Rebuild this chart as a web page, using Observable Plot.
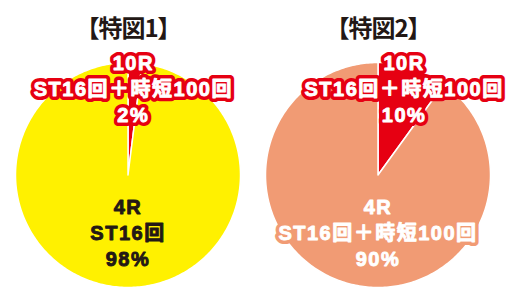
<!DOCTYPE html>
<html>
<head>
<meta charset="utf-8">
<script src="https://cdn.jsdelivr.net/npm/d3@7"></script>
<script src="https://cdn.jsdelivr.net/npm/@observablehq/plot@0.6"></script>
<style>
  html, body { margin: 0; padding: 0; background: #fff; }
</style>
</head>
<body>
<div id="chart"></div>
<script>
// ---- data ----
const charts = ["【特図1】", "【特図2】"];
const rounds = ["10R", "4R"];
const bonusLabels = [
  ["ST16回＋時短100回", "ST16回"],
  ["ST16回＋時短100回", "ST16回＋時短100回"]
];
const shares = [
  [2, 98],
  [10, 90]
];
// ---- palette ----
const sliceColors = [["#e60012", "#fff100"], ["#e60012", "#f19b74"]];
const labelInk   = [["#ffffff", "#231815"], ["#ffffff", "#ffffff"]];
const labelHalo  = [["#e60012", "#fff100"], ["#e60012", "#f19b74"]];

// ---- build slices ----
const pie = d3.pie().sort(null).value(d => d);
const slices = charts.flatMap((chart, i) =>
  pie(shares[i]).map((a, j) => ({
    chart, i, j,
    key: chart + "-" + j,
    start: a.startAngle,
    end: a.endAngle,
    share: shares[i][j],
    color: sliceColors[i][j],
    ink: labelInk[i][j],
    halo: labelHalo[i][j],
    text: `${rounds[j]}\n${bonusLabels[i][j]}\n${shares[i][j]}%`
  }))
);

const points = slices.flatMap(s => {
  const n = Math.max(2, Math.ceil((s.end - s.start) / (Math.PI / 180)));
  const pts = [{...s, px: 0, py: 0}];
  for (let k = 0; k <= n; k++) {
    const a = s.start + (s.end - s.start) * k / n;
    pts.push({...s, px: Math.sin(a), py: Math.cos(a)});
  }
  pts.push({...s, px: 0, py: 0});
  return pts;
});

const labels = slices.map(s => {
  const mid = (s.start + s.end) / 2;
  const major = s.share > 50;
  return {
    ...s,
    lx: major ? 0 : 0.75 * Math.sin(mid),
    ly: major ? -0.50 : 0.78 * Math.cos(mid) + (s.share > 5 ? 0.03 : 0)
  };
});

const font = "'Liberation Sans', 'Noto Sans CJK JP', sans-serif";
const textOpts = {
  fx: "chart", x: "lx", y: "ly", text: "text",
  fontSize: 20, fontWeight: "bold", lineHeight: 1.3,
  lineAnchor: "middle", textAnchor: "middle",
  strokeLinejoin: "round"
};

const plot = Plot.plot({
  width: 516,
  height: 300,
  marginLeft: 15,
  marginRight: 26,
  marginTop: 62,
  marginBottom: 13,
  style: {fontFamily: font, background: "#fff"},
  x: {domain: [-1, 1], axis: null},
  y: {domain: [-1, 1], axis: null},
  fx: {domain: charts, paddingInner: 0.1, paddingOuter: 0, axis: null},
  color: {type: "identity"},
  marks: [
    Plot.text(charts, {
      fx: d => d, text: d => d, frameAnchor: "top", dy: -26,
      lineAnchor: "bottom", textAnchor: "middle",
      fontSize: 24, fontWeight: "bold", fill: "#231815",
      fontFamily: "'Noto Sans CJK JP', sans-serif"
    }),
    Plot.line(points, {
      fx: "chart", x: "px", y: "py", z: "key",
      fill: "color", stroke: "#ffffff", strokeWidth: 1.5,
      strokeLinejoin: "round", curve: "linear"
    }),
    // halo
    Plot.text(labels, {...textOpts, fill: "halo", stroke: "halo", strokeWidth: 8}),
    // emboldened ink
    Plot.text(labels, {...textOpts, fill: "ink", stroke: "ink", strokeWidth: 0.9})
  ]
});

const svg = d3.select(plot);
const textGroups = svg.selectAll("g[aria-label=text]");
textGroups.filter((d, k) => k === 0).selectAll("text").attr("letter-spacing", "-1px");
textGroups.filter((d, k) => k > 0).selectAll("text").attr("letter-spacing", "1.5px");
document.getElementById("chart").appendChild(plot);
</script>
</body>
</html>
